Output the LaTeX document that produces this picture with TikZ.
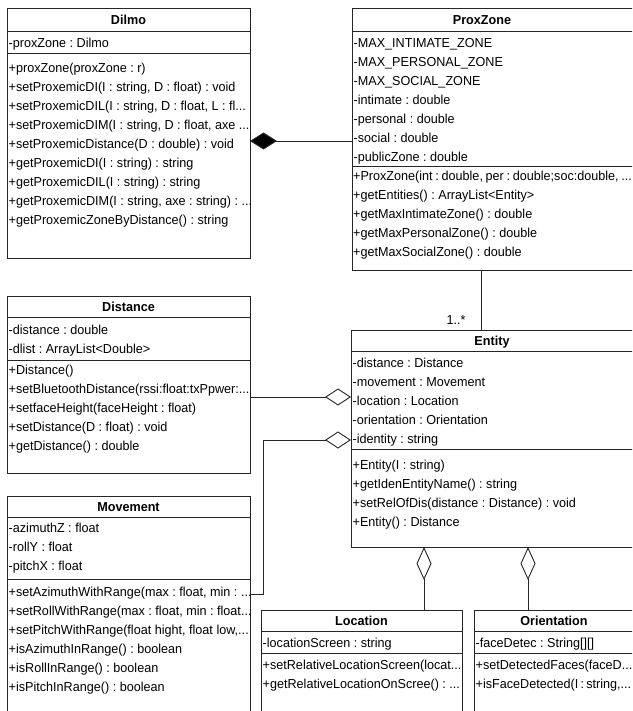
\documentclass[tikz,border=0pt]{standalone}
\usepackage{fontspec}
\setmainfont{Liberation Sans}[FakeStretch=0.97]
\frenchspacing
\usetikzlibrary{arrows.meta}
\tikzset{
  cls/.style={draw=black!85, line width=1pt, anchor=north west, inner sep=0pt, outer sep=0pt, fill=white},
  sepline/.style={draw=black!85, line width=1pt},
  row/.style={anchor=base west, inner sep=0pt, font=\fontsize{13}{15}\selectfont},
  ttl/.style={anchor=base, inner sep=0pt, font=\bfseries\fontsize{13}{15}\selectfont},
  link/.style={draw=black!85, line width=0.9pt},
  comp/.style={link, {Diamond[fill=black,length=27pt,width=17pt]}-},
  aggend/.style={link, -{Diamond[open,length=26pt,width=17pt]}},
  aggstart/.style={link, {Diamond[open,length=33pt,width=15pt]}-},
}
\newcommand{\ddd}{...}
\newcommand{\classrows}[4]{%
  \foreach \t [count=\i] in {#4} {
    \node[row] (#1-\i) at (#2, {#3+(\i-1)*19}) {\t};
  }}
\begin{document}
\begin{tikzpicture}[x=1pt,y=-1pt]
\useasboundingbox (0,0) rectangle (632,711);
\fill[white] (0,0) rectangle (632,711);
\clip (0,0) rectangle (632,711);

% ---------- Dilmo
\node[cls, minimum width=243pt, minimum height=249pt] (dilmo) at (7,9) {};
\draw[sepline] (dilmo.west |- 0,32) -- (dilmo.east |- 0,32);
\draw[sepline] (dilmo.west |- 0,54) -- (dilmo.east |- 0,54);
\node[ttl] (dilmo-t) at (128.5,25) {Dilmo};
\classrows{dilmo-a}{8.5}{47.5}{{-proxZone : Dilmo}}
\classrows{dilmo-m}{8.5}{72.8}{{+proxZone(proxZone : r)},{+setProxemicDI(I : string, D : float) : void},{+setProxemicDIL(I : string, D : float, L : fl\ddd},{+setProxemicDIM(I : string, D : float, axe \ddd},{+setProxemicDistance(D : double) : void},{+getProxemicDI(I : string) : string},{+getProxemicDIL(I : string) : string},{+getProxemicDIM(I : string, axe : string) : \ddd},{+getProxemicZoneByDistance() : string}}

% ---------- ProxZone
\node[cls, minimum width=290pt, minimum height=261pt] (proxzone) at (352,9) {};
\draw[sepline] (proxzone.west |- 0,32) -- (proxzone.east |- 0,32);
\draw[sepline] (proxzone.west |- 0,167) -- (proxzone.east |- 0,167);
\node[ttl] (proxzone-t) at (482,25) {ProxZone};
\classrows{proxzone-a}{353.5}{47.8}{{-MAX\_INTIMATE\_ZONE},{-MAX\_PERSONAL\_ZONE},{-MAX\_SOCIAL\_ZONE},{-intimate : double},{-personal : double},{-social : double},{-publicZone : double}}
\classrows{proxzone-m}{353}{180.2}{{\spaceskip=2.7pt +ProxZone(int : double, per : double;soc:double, \ddd},{+getEntities() : ArrayList<Entity>},{+getMaxIntimateZone() : double},{+getMaxPersonalZone() : double},{+getMaxSocialZone() : double}}

% ---------- Distance
\node[cls, minimum width=243pt, minimum height=177pt] (distance) at (7,296) {};
\draw[sepline] (distance.west |- 0,317) -- (distance.east |- 0,317);
\draw[sepline] (distance.west |- 0,360) -- (distance.east |- 0,360);
\node[ttl] (distance-t) at (128.5,311) {Distance};
\classrows{distance-a}{8.5}{334.5}{{-distance : double},{-dlist : ArrayList<Double>}}
\classrows{distance-m}{8.5}{374.5}{{+Distance()},{+setBluetoothDistance(rssi:float:txPpwer:\ddd},{+setfaceHeight(faceHeight : float)},{+setDistance(D : float) : void},{+getDistance() : double}}

% ---------- Movement
\node[cls, minimum width=243pt, minimum height=240pt] (movement) at (7,496) {};
\draw[sepline] (movement.west |- 0,517) -- (movement.east |- 0,517);
\draw[sepline] (movement.west |- 0,579) -- (movement.east |- 0,579);
\node[ttl] (movement-t) at (128.5,511) {Movement};
\classrows{movement-a}{8.5}{532.8}{{-azimuthZ : float},{-rollY : float},{-pitchX : float}}
\classrows{movement-m}{8.5}{596.2}{{+setAzimuthWithRange(max : float, min : \ddd},{+setRollWithRange(max : float, min : float\ddd},{+setPitchWithRange(float hight, float low,\ddd},{+isAzimuthInRange() : boolean},{+isRollInRange() : boolean},{+isPitchInRange() : boolean}}

% ---------- Entity
\node[cls, minimum width=291pt, minimum height=217pt] (entity) at (351,330) {};
\draw[sepline] (entity.west |- 0,351) -- (entity.east |- 0,351);
\draw[sepline] (entity.west |- 0,449) -- (entity.east |- 0,449);
\node[ttl] (entity-t) at (492,345) {Entity};
\classrows{entity-a}{352.5}{367.8}{{-distance : Distance},{-movement : Movement},{-location : Location},{-orientation : Orientation},{-identity : string}}
\classrows{entity-m}{352.5}{469.5}{{+Entity(I : string)},{+getIdenEntityName() : string},{+setRelOfDis(distance : Distance) : void},{+Entity() : Distance}}

% ---------- Location
\node[cls, minimum width=201pt, minimum height=130pt] (location) at (261,610) {};
\draw[sepline] (location.west |- 0,631) -- (location.east |- 0,631);
\draw[sepline] (location.west |- 0,653) -- (location.east |- 0,653);
\node[ttl] (location-t) at (361.5,625) {Location};
\classrows{location-a}{262.5}{647}{{-locationScreen : string}}
\classrows{location-m}{262.5}{669.5}{{+setRelativeLocationScreen(locat\ddd},{+getRelativeLocationOnScree() : \ddd}}

% ---------- Orientation
\node[cls, minimum width=168pt, minimum height=130pt] (orientation) at (474,610) {};
\draw[sepline] (orientation.west |- 0,631) -- (orientation.east |- 0,631);
\draw[sepline] (orientation.west |- 0,653) -- (orientation.east |- 0,653);
\node[ttl] (orientation-t) at (554,625) {Orientation};
\classrows{orientation-a}{475.5}{647}{{-faceDetec : String[][]}}
\classrows{orientation-m}{475.5}{669.5}{{+setDetectedFaces(faceD\ddd},{\spaceskip=2.2pt +isFaceDetected(I : string,\ddd}}

% ---------- connectors
\draw[comp] (dilmo.east |- 0,141) -- (proxzone.west |- 0,141);
\draw[link] (proxzone.south -| 481,0) -- (entity.north -| 481,0)
  node[row, anchor=base east] (mult) at (466,324) {1..*};
\draw[aggend] (distance.east |- 0,397) -- (entity.west |- 0,397);
\coordinate (bend) at (263,440);
\draw[aggend] (movement.east |- 0,594) -| (bend) -- (entity.west |- bend);
\draw[aggstart] (entity.south -| 424,0) -- (location.north -| 424,0);
\draw[aggstart] (entity.south -| 528,0) -- (orientation.north -| 528,0);
\end{tikzpicture}
\end{document}
